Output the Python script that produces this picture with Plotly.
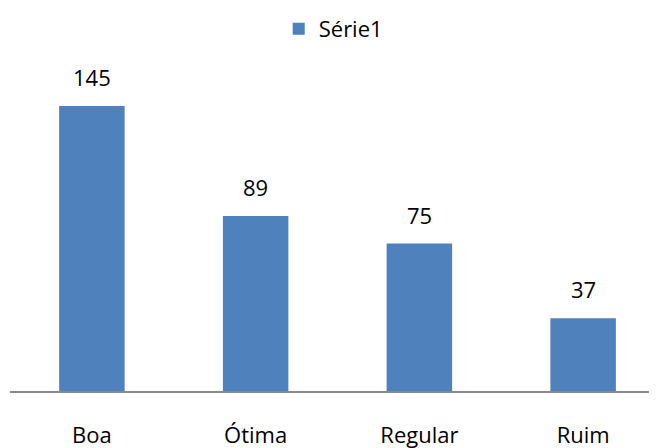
import plotly.graph_objects as go

categories = ["Boa", "Ótima", "Regular", "Ruim"]
values = [145, 89, 75, 37]
series_name = "Série1"

FONT = "Open Sans"
FS = 22

fig = go.Figure()
fig.add_trace(go.Bar(
    x=categories, y=values, name=series_name,
    marker=dict(color="#4F81BD", line=dict(width=0)),
    showlegend=True,
))

for c, v in zip(categories, values):
    fig.add_annotation(x=c, y=v, text=str(v), showarrow=False,
                       yanchor="bottom", yshift=12,
                       font=dict(size=FS, color="#000000", family=FONT))

fig.update_layout(
    width=657, height=448,
    margin=dict(l=2, r=0, t=52, b=65, autoexpand=False),
    paper_bgcolor="white", plot_bgcolor="white",
    bargap=0.6,
    font=dict(family=FONT, size=FS, color="#000000"),
    showlegend=True,
    legend=dict(orientation="h", x=0.495, xanchor="center", xref="container",
                y=1.0, yref="container", yanchor="top",
                itemwidth=30,
                font=dict(size=FS, family=FONT)),
    xaxis=dict(range=[-0.5, 3.5], showgrid=False, showline=True,
               linecolor="#898989", linewidth=1.5, ticks="",
               automargin=False,
               ticklabelstandoff=24, tickfont=dict(size=FS)),
    yaxis=dict(range=[0, 168.4], visible=False, showgrid=False, automargin=False),
)

fig.write_html("out.html")
